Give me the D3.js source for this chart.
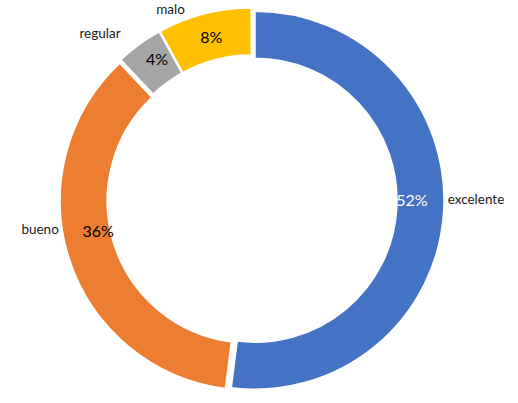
<!DOCTYPE html>
<html><head><meta charset="utf-8">
<script src="https://cdn.jsdelivr.net/npm/d3@7"></script>
<style>body{margin:0;background:#fff}svg{display:block}</style>
</head><body>
<svg id="c" width="518" height="403"></svg>
<script>
const categories = ["excelente", "bueno", "regular", "malo"];
const values = [52, 36, 4, 8];
const pctLabels = ["52%", "36%", "4%", "8%"];
const colors = ["#4472C4", "#ED7D31", "#A5A5A5", "#FFC000"];
const pctColors = ["#ffffff", "#000000", "#000000", "#000000"];

// label layout (degrees offset from slice mid-angle, radius from centre)
const pctAngleAdj = [-3.6, 6.5, 2, 0.4];
const pctRadius = [160, 157, 170, 168];
const catAngleAdj = [-3.6, 10, -6.5, -8.8];
const catRadius = [224, 214, 225, 207];

const W = 518, H = 403, cx = 252, cy = 200, R = 189, r = 142, explode = 3;
const svg = d3.select("#c");
const g = svg.append("g").attr("transform", `translate(${cx},${cy})`);
const pie = d3.pie().sort(null).value(d => d)(values);
const arc = d3.arc().innerRadius(r).outerRadius(R);
const mid = d => (d.startAngle + d.endAngle) / 2;
const rad = Math.PI / 180;

g.selectAll("path.s").data(pie).enter().append("path")
  .attr("transform", d => `translate(${explode*Math.sin(mid(d))},${-explode*Math.cos(mid(d))})`)
  .attr("d", arc).attr("fill", (d,i) => colors[i])
  .attr("stroke", "#fff").attr("stroke-width", 1.5);

const font = "Lato, 'Liberation Sans', sans-serif";
g.selectAll("text.p").data(pie).enter().append("text")
  .attr("x", (d,i) => pctRadius[i]*Math.sin(mid(d) + pctAngleAdj[i]*rad))
  .attr("y", (d,i) => -pctRadius[i]*Math.cos(mid(d) + pctAngleAdj[i]*rad))
  .attr("dy", "0.36em").attr("text-anchor", "middle")
  .attr("font-family", font).attr("font-size", 16)
  .attr("fill", (d,i) => pctColors[i]).text((d,i) => pctLabels[i]);

g.selectAll("text.c").data(pie).enter().append("text")
  .attr("x", (d,i) => catRadius[i]*Math.sin(mid(d) + catAngleAdj[i]*rad))
  .attr("y", (d,i) => -catRadius[i]*Math.cos(mid(d) + catAngleAdj[i]*rad))
  .attr("dy", "0.3em").attr("text-anchor", "middle")
  .attr("font-family", font).attr("font-size", 13.5)
  .attr("fill", "#1a1a1a").text((d,i) => categories[i]);
</script>
</body></html>
